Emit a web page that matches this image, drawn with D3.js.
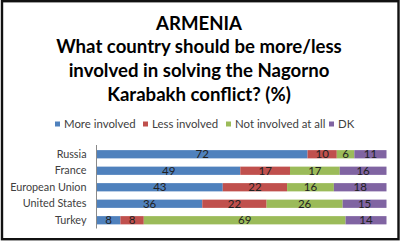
<!DOCTYPE html>
<html>
<head>
<meta charset="utf-8">
<script src="https://cdn.jsdelivr.net/npm/d3@7"></script>
<style>
  html, body { margin: 0; padding: 0; background: #fff; }
  svg { display: block; }
  text { font-family: Lato, "Open Sans", sans-serif; }
</style>
</head>
<body>
<svg id="chart" width="400" height="241"></svg>
<script>
// Survey answers (%), one row per country
const countries = ["Russia", "France", "European Union", "United States", "Turkey"];
const answers = ["More involved", "Less involved", "Not involved at all", "DK"];
const moreInvolved   = [72, 49, 43, 36, 8];
const lessInvolved   = [10, 17, 22, 22, 8];
const notInvolved    = [6, 17, 16, 26, 69];
const dontKnow       = [11, 16, 18, 15, 14];
const titleLines = [
  "ARMENIA",
  "What country should be more/less",
  "involved in solving the Nagorno",
  "Karabakh conflict? (%)"
];
const colors = ["#4F81BD", "#C0504D", "#9BBB59", "#8064A2"];

const svg = d3.select("#chart");
const W = 400, H = 241;

svg.append("rect").attr("width", W).attr("height", H).attr("fill", "#fff");

// frame
svg.append("rect")
  .attr("x", 2).attr("y", 1.2).attr("width", 396.5).attr("height", 238)
  .attr("fill", "none").attr("stroke", "#111").attr("stroke-width", 2.4);

// title
const title = svg.append("text")
  .attr("text-anchor", "middle")
  .attr("font-weight", "bold")
  .attr("font-size", 18.6)
  .attr("fill", "#000");
titleLines.forEach((t, i) => {
  title.append("tspan").attr("x", 199).attr("y", 29.5 + i * 23.8).text(t);
});

// build table of rows for stacking (each row shown as share of its total)
const rows = countries.map((c, i) => {
  const vals = [moreInvolved[i], lessInvolved[i], notInvolved[i], dontKnow[i]];
  const total = d3.sum(vals);
  const r = { country: c, total };
  answers.forEach((a, j) => { r[a] = vals[j]; });
  return r;
});

const stack = d3.stack()
  .keys(answers)
  .value((d, k) => d[k] / d.total);
const series = stack(rows);

const x = d3.scaleLinear().domain([0, 1]).range([97, 386.5]);
const y = d3.scaleBand().domain(countries).range([146, 228.5]).paddingInner(0.5).paddingOuter(0.25);

// bars
const g = svg.append("g");
series.forEach((s, j) => {
  g.selectAll(null).data(s).enter().append("rect")
    .attr("x", d => x(d[0]))
    .attr("y", d => y(d.data.country))
    .attr("width", d => x(d[1]) - x(d[0]))
    .attr("height", y.bandwidth())
    .attr("fill", colors[j]);
  g.selectAll(null).data(s).enter().append("text")
    .attr("x", d => (x(d[0]) + x(d[1])) / 2)
    .attr("y", d => y(d.data.country) + y.bandwidth() / 2 + 4)
    .attr("text-anchor", "middle")
    .attr("font-size", 11.5)
    .attr("fill", "#222")
    .text(d => d.data[answers[j]]);
});

// category axis
const axis = d3.axisLeft(y).tickSize(0).tickPadding(10);
const ax = svg.append("g").attr("transform", "translate(96.5,0)").call(axis);
ax.select(".domain").attr("stroke", "#8a8a8a").attr("d", "M0,145V228.5");
ax.selectAll("text")
  .attr("font-family", "Lato, 'Open Sans', sans-serif")
  .attr("font-size", 10.8)
  .attr("fill", "#404040");

// legend
const legendX = [55, 143, 226, 329];
const legend = svg.append("g");
answers.forEach((a, j) => {
  legend.append("rect")
    .attr("x", legendX[j]).attr("y", 121.5)
    .attr("width", 5).attr("height", 5)
    .attr("fill", colors[j]);
  legend.append("text")
    .attr("x", legendX[j] + 9).attr("y", 128)
    .attr("font-size", 11.4)
    .attr("fill", "#404040")
    .text(a);
});
</script>
</body>
</html>
